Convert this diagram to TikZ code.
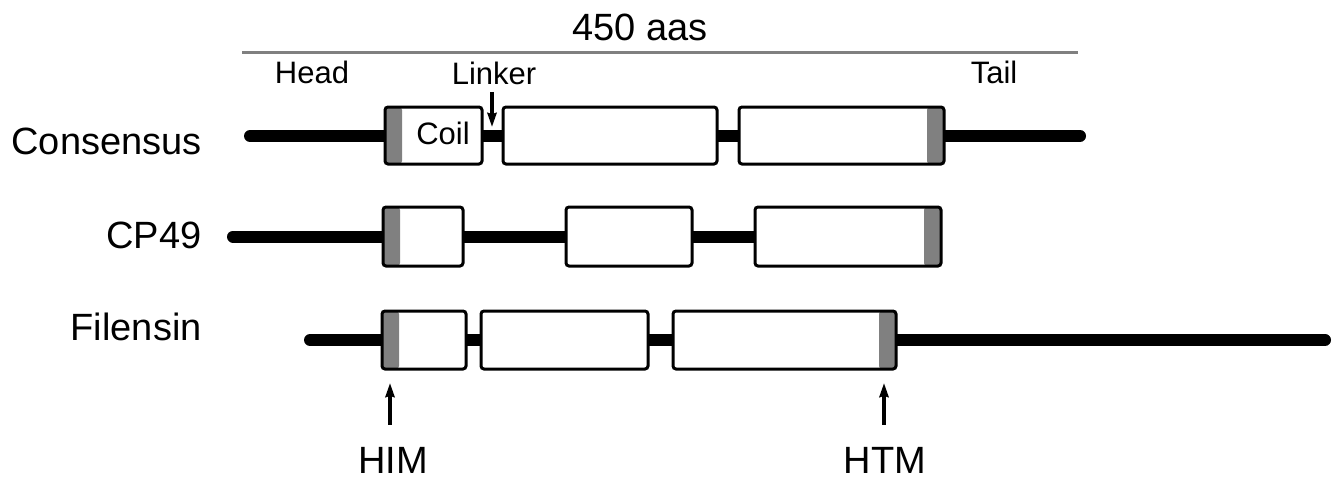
\documentclass[tikz,border=0pt]{standalone}
\usepackage{fontspec}
\setmainfont{Liberation Sans}
\usetikzlibrary{arrows.meta, fit, backgrounds}

\tikzset{
  rodbox/.style={draw, line width=1.5pt, rounded corners=1.5pt, fill=white, inner sep=0pt},
  headband/.style={rodbox, path picture={\fill[gray] (path picture bounding box.north west) rectangle ([xshift=8.5pt]path picture bounding box.south west);}},
  tailband/.style={rodbox, path picture={\fill[gray] (path picture bounding box.north east) rectangle ([xshift=-8.5pt]path picture bounding box.south east);}},
  backbone/.style={line width=6pt, line cap=round},
  pointer/.style={line width=1.6pt, -{Stealth[length=7pt, width=4.5pt, inset=0.5pt]}},
  bigtext/.style={font=\fontsize{19}{22}\selectfont, inner sep=0pt},
  smalltext/.style={font=\fontsize{15.5}{18}\selectfont, inner sep=0pt}
}

\begin{document}
\begin{tikzpicture}[x=0.5pt, y=-0.5pt]
  \useasboundingbox (0,0) rectangle (1344,483);

  % scale bar
  \node[bigtext] (len) at (640,27) {450 aas};
  \coordinate (barL) at (242,52);
  \coordinate (barR) at (1078,52);
  \draw[gray, line width=1.5pt] (barL) -- (barR);
  \node[smalltext] (head) at (312,72) {Head};
  \node[smalltext] (lnk) at (494,73) {Linker};
  \node[smalltext] (tail) at (994,72) {Tail};

  % row names
  \node[bigtext, anchor=east] (cons) at (202,141) {Consensus};
  \node[bigtext, anchor=east] (cp) at (202,235) {CP49};
  \node[bigtext, anchor=east] (fil) at (202,327) {Filensin};

  % Consensus
  \node[headband, fit={(385,107) (482,164)}] (c1) {};
  \node[rodbox, fit={(503,107) (717,164)}] (c2) {};
  \node[tailband, fit={(739,107) (944,164)}] (c3) {};
  \coordinate (cS) at (250,136);
  \coordinate (cE) at (1080,136);

  % CP49
  \node[headband, fit={(383,207) (463,266)}] (p1) {};
  \node[rodbox, fit={(566,207) (692,266)}] (p2) {};
  \node[tailband, fit={(755,207) (941,266)}] (p3) {};
  \coordinate (pS) at (233,236.5);

  % Filensin
  \node[headband, fit={(382,311) (466,369)}] (f1) {};
  \node[rodbox, fit={(481,311) (648,369)}] (f2) {};
  \node[tailband, fit={(673,311) (896,369)}] (f3) {};
  \coordinate (fS) at (310,340);
  \coordinate (fE) at (1325,340);

  \begin{scope}[on background layer]
    \draw[backbone] (cS) -- (cE);
    \draw[backbone] (pS) -- (pS -| p3.center);
    \draw[backbone] (fS) -- (fE);
  \end{scope}
  \node[smalltext] (coil) at (443,133) {Coil};

  % markers
  \node[bigtext] (him) at (393,460) {HIM};
  \node[bigtext] (htm) at (885,460) {HTM};
  \coordinate (lnkTip) at (492,127);
  \coordinate (himTip) at (390,383);
  \coordinate (htmTip) at (884,383);
  \draw[pointer, shorten <=3.5pt] (lnk.south -| lnkTip) -- (lnkTip);
  \draw[pointer, shorten <=11pt] (him.north -| himTip) -- (himTip);
  \draw[pointer, shorten <=11pt] (htm.north -| htmTip) -- (htmTip);
\end{tikzpicture}
\end{document}
